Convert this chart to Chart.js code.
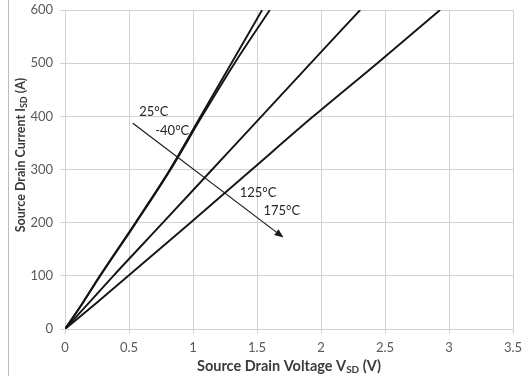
<!DOCTYPE html>
<html>
<head>
<meta charset="utf-8">
<script src="https://cdn.jsdelivr.net/npm/chart.js@4/dist/chart.umd.min.js"></script>
<style>
  html, body { margin: 0; padding: 0; background: #ffffff; }
  #wrap { width: 528px; height: 376px; position: relative; }
</style>
</head>
<body>
<div id="wrap"><canvas id="c" width="528" height="376"></canvas></div>
<script>
// Body-diode forward characteristic: source-drain current vs. voltage
const currentA = [0, 50, 100, 200, 300, 400, 500, 600];
const vsd25  = [0, 0.14, 0.272, 0.55, 0.82, 1.06, 1.30, 1.54];
const vsdM40 = [0, 0.142, 0.276, 0.555, 0.825, 1.07, 1.325, 1.60];
const vsd125 = [0, 0.19, 0.378, 0.765, 1.15, 1.535, 1.92, 2.306];
const vsd175 = [0, 0.25, 0.495, 0.98, 1.46, 1.94, 2.44, 2.93];

const seriesNames = ['25°C', '-40°C', '125°C', '175°C'];
const seriesVolts = [vsd25, vsdM40, vsd125, vsd175];

// Temperature labels (V, A) and trend arrow (start, end) in data units
const labelText = ['25°C', '-40°C', '125°C', '175°C'];
const labelV = [0.58, 0.705, 1.365, 1.55];
const labelI = [409, 373, 256, 222];
const arrowV = [0.53, 1.707];
const arrowI = [387, 172];

const xTicks = [0, 0.5, 1, 1.5, 2, 2.5, 3, 3.5];
const yTicks = [0, 100, 200, 300, 400, 500, 600];

const FONT = 'Lato, "Liberation Sans", sans-serif';
const GRID = '#d2d2d2';

const datasets = seriesVolts.map((v, k) => ({
  label: seriesNames[k],
  data: v.map((x, i) => ({ x: x, y: currentA[i] })),
  showLine: true,
  borderColor: '#141414',
  borderWidth: 1.9,
  pointRadius: 0,
  cubicInterpolationMode: 'monotone',
  fill: false
}));

// Axis titles with subscripts, temperature labels, arrow and left frame line
const decor = {
  id: 'decor',
  beforeDraw(chart) {
    const ctx = chart.ctx;
    ctx.save();
    ctx.strokeStyle = '#bdbdbd';
    ctx.lineWidth = 1;
    ctx.beginPath();
    ctx.moveTo(8.5, 0);
    ctx.lineTo(8.5, 376);
    ctx.stroke();
    ctx.restore();
  },
  afterDraw(chart) {
    const ctx = chart.ctx;
    const xs = chart.scales.x, ys = chart.scales.y;
    const area = chart.chartArea;

    function subTitle(parts, cx, cy, rot) {
      ctx.save();
      ctx.translate(cx, cy);
      ctx.rotate(rot);
      ctx.fillStyle = '#3a3a3a';
      ctx.textBaseline = 'middle';
      ctx.textAlign = 'left';
      let total = 0;
      const widths = parts.map(p => {
        ctx.font = 'bold ' + p.size + 'px ' + FONT;
        const w = ctx.measureText(p.t).width;
        total += w;
        return w;
      });
      let x = -total / 2;
      parts.forEach((p, i) => {
        ctx.font = 'bold ' + p.size + 'px ' + FONT;
        ctx.fillText(p.t, x, p.dy);
        x += widths[i];
      });
      ctx.restore();
    }

    subTitle([
      { t: 'Source Drain Voltage V', size: 14.5, dy: 0 },
      { t: 'SD', size: 10, dy: 3.5 },
      { t: ' (V)', size: 14.5, dy: 0 }
    ], (area.left + area.right) / 2, 366, 0);

    subTitle([
      { t: 'Source Drain Current I', size: 12.5, dy: 0 },
      { t: 'SD', size: 9, dy: 3 },
      { t: ' (A)', size: 12.5, dy: 0 }
    ], 21, 155, -Math.PI / 2);

    // temperature labels
    ctx.save();
    ctx.font = '13px ' + FONT;
    ctx.fillStyle = '#262626';
    ctx.textAlign = 'left';
    ctx.textBaseline = 'middle';
    labelText.forEach((t, i) => {
      ctx.fillText(t, xs.getPixelForValue(labelV[i]), ys.getPixelForValue(labelI[i]));
    });
    ctx.restore();

    // trend arrow
    const x0 = xs.getPixelForValue(arrowV[0]), y0 = ys.getPixelForValue(arrowI[0]);
    const x1 = xs.getPixelForValue(arrowV[1]), y1 = ys.getPixelForValue(arrowI[1]);
    const ang = Math.atan2(y1 - y0, x1 - x0);
    const hl = 9, hw = 3.6;
    ctx.save();
    ctx.strokeStyle = '#1a1a1a';
    ctx.fillStyle = '#1a1a1a';
    ctx.lineWidth = 1.2;
    ctx.beginPath();
    ctx.moveTo(x0, y0);
    ctx.lineTo(x1 - hl * Math.cos(ang), y1 - hl * Math.sin(ang));
    ctx.stroke();
    ctx.beginPath();
    ctx.moveTo(x1, y1);
    ctx.lineTo(x1 - hl * Math.cos(ang) + hw * Math.sin(ang), y1 - hl * Math.sin(ang) - hw * Math.cos(ang));
    ctx.lineTo(x1 - hl * Math.cos(ang) - hw * Math.sin(ang), y1 - hl * Math.sin(ang) + hw * Math.cos(ang));
    ctx.closePath();
    ctx.fill();
    ctx.restore();
  }
};

new Chart(document.getElementById('c'), {
  type: 'scatter',
  data: { datasets: datasets },
  plugins: [decor],
  options: {
    responsive: false,
    animation: false,
    events: [],
    layout: { padding: { left: 0, right: 15, top: 10, bottom: 0 } },
    plugins: { legend: { display: false }, tooltip: { enabled: false } },
    scales: {
      x: {
        type: 'linear',
        min: 0, max: 3.5,
        afterBuildTicks(s) { s.ticks = xTicks.map(v => ({ value: v })); },
        afterFit(s) { s.height = 47; s.paddingLeft = 0; s.paddingRight = 0; },
        grid: { color: GRID, lineWidth: 1, tickLength: 5, drawTicks: true },
        border: { display: true, color: GRID, width: 1 },
        ticks: {
          color: '#595959', font: { family: FONT, size: 13 }, padding: 6, maxRotation: 0,
          callback: v => String(v)
        }
      },
      y: {
        type: 'linear',
        min: 0, max: 600,
        afterBuildTicks(s) { s.ticks = yTicks.map(v => ({ value: v })); },
        afterFit(s) { s.width = 65; s.paddingTop = 0; s.paddingBottom = 0; },
        grid: { color: GRID, lineWidth: 1, tickLength: 5, drawTicks: true },
        border: { display: true, color: GRID, width: 1 },
        ticks: { color: '#595959', font: { family: FONT, size: 13 }, padding: 7, callback: v => String(v) }
      }
    }
  }
});
</script>
</body>
</html>
